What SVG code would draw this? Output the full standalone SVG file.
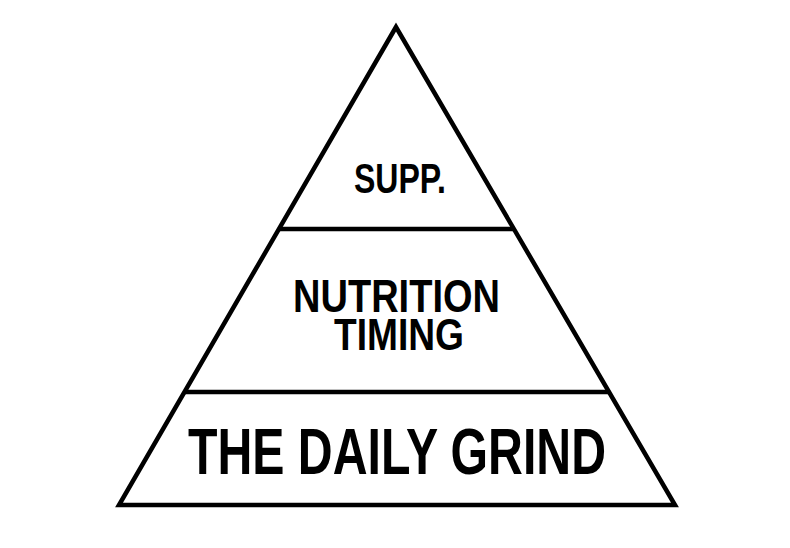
<svg xmlns="http://www.w3.org/2000/svg" width="790" height="548" viewBox="0 0 790 548">
  <style>
    .edge { fill: none; stroke: #000; stroke-width: 4.5; stroke-linejoin: miter; stroke-linecap: butt; }
    .lbl { font-family: "Liberation Sans", "DejaVu Sans", Arial, sans-serif; font-weight: bold; fill: #000; text-anchor: middle; }
  </style>
  <rect x="0" y="0" width="790" height="548" fill="#fff"/>
  <g id="connectors">
    <polygon class="edge" points="396,27 119,505 675,505"/>
    <line class="edge" x1="279" y1="229" x2="514" y2="229"/>
    <line class="edge" x1="185" y1="392" x2="609" y2="392"/>
  </g>
  <g id="tier-supp">
    <text class="lbl" x="400" y="193" font-size="43" textLength="92" lengthAdjust="spacingAndGlyphs">SUPP.</text>
  </g>
  <g id="tier-nutrition">
    <text class="lbl" x="396.5" y="312" font-size="47" textLength="207" lengthAdjust="spacingAndGlyphs">NUTRITION</text>
    <text class="lbl" x="399" y="350" font-size="45" textLength="130" lengthAdjust="spacingAndGlyphs">TIMING</text>
  </g>
  <g id="tier-grind">
    <text class="lbl" x="397" y="474" font-size="65" textLength="418" lengthAdjust="spacingAndGlyphs">THE DAILY GRIND</text>
  </g>
</svg>
